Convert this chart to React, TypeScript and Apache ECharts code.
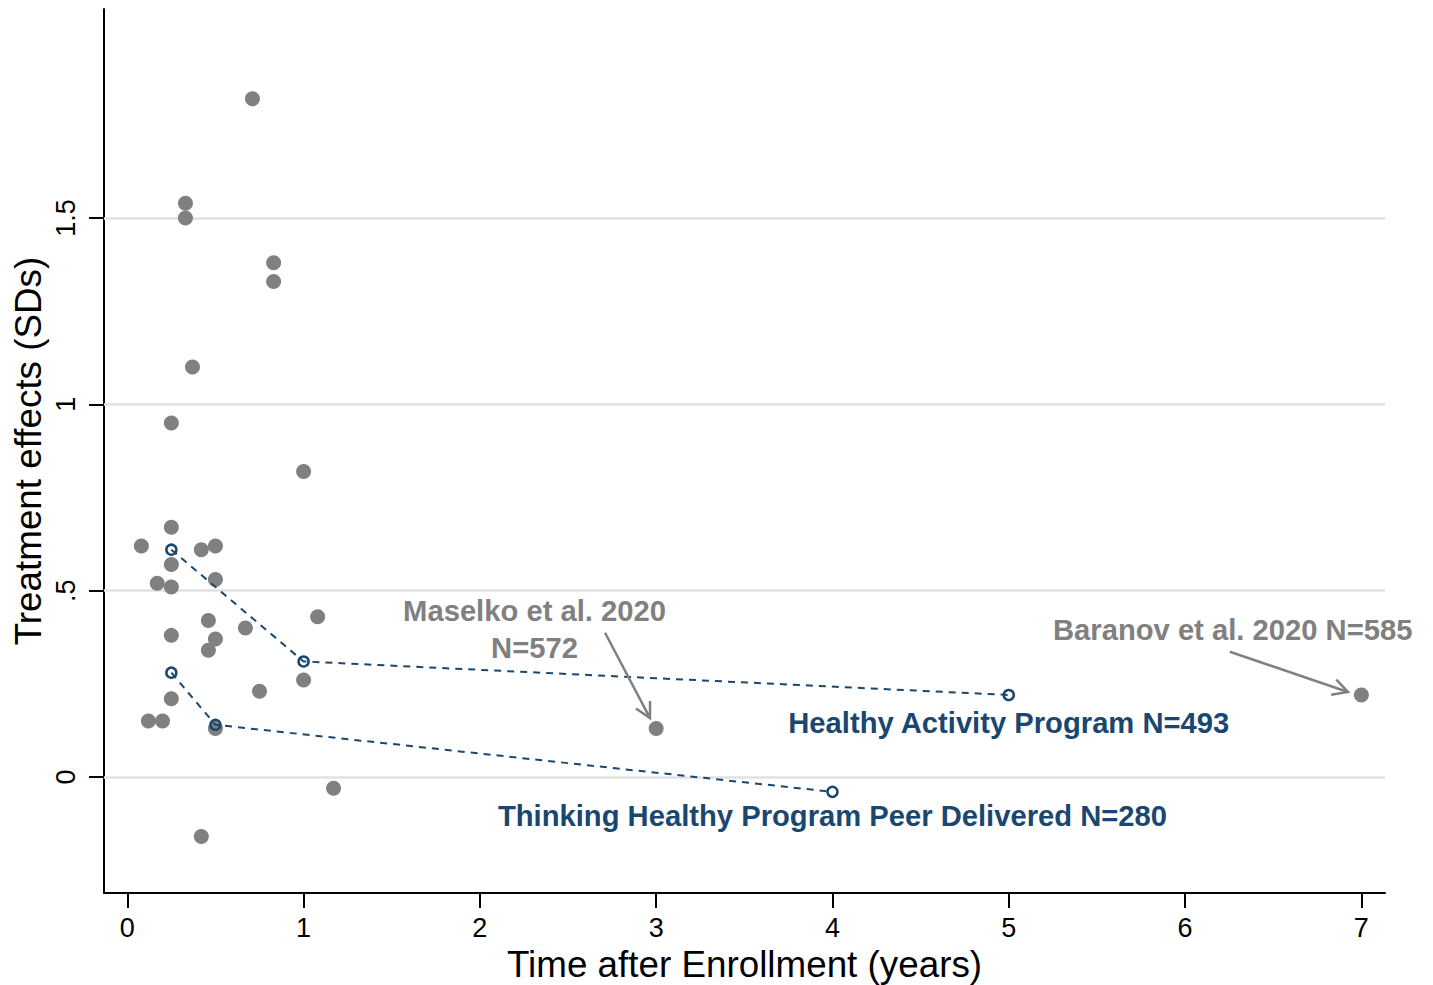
import React, { useEffect, useRef } from 'react';
import * as echarts from 'echarts';

// Individual study estimates: [years after enrollment, treatment effect (SD)]
const studyPoints: [number, number][] = [
  [0.08, 0.62], [0.12, 0.15], [0.17, 0.52], [0.2, 0.15],
  [0.25, 0.95], [0.25, 0.67], [0.25, 0.57], [0.25, 0.51], [0.25, 0.38], [0.25, 0.21],
  [0.33, 1.54], [0.33, 1.5], [0.37, 1.1],
  [0.42, 0.61], [0.42, -0.16], [0.46, 0.42], [0.46, 0.34],
  [0.5, 0.62], [0.5, 0.53], [0.5, 0.37], [0.5, 0.13],
  [0.67, 0.4], [0.71, 1.82], [0.75, 0.23], [0.83, 1.38], [0.83, 1.33],
  [1, 0.82], [1, 0.26], [1.08, 0.43], [1.17, -0.03],
  [3, 0.13], [7, 0.22],
];

// Healthy Activity Program follow-ups
const hapPath: [number, number][] = [[0.25, 0.61], [1, 0.31], [5, 0.22]];
// Thinking Healthy Program Peer Delivered follow-ups
const thppPath: [number, number][] = [[0.25, 0.28], [0.5, 0.14], [4, -0.04]];

const xTicks = [0, 1, 2, 3, 4, 5, 6, 7];
const yTicks = [0, 0.5, 1, 1.5];
const yTickLabels: Record<string, string> = { '0': '0', '0.5': '.5', '1': '1', '1.5': '1.5' };

const annotationTexts = [
  'Maselko et al. 2020\nN=572',
  'Baranov et al. 2020 N=585',
  'Healthy Activity Program N=493',
  'Thinking Healthy Program Peer Delivered N=280',
];
const annotationAnchors: [number, number][] = [[2.31, 0.397], [6.27, 0.395], [5, 0.145], [4, -0.105]];
const annotationIsBlue = [false, false, true, true];

// arrows: [fromX, fromY, toX, toY]
const arrows: [number, number, number, number][] = [
  [2.71, 0.387, 2.965, 0.158],
  [6.254, 0.336, 6.924, 0.228],
];

const GREY = '#808080';
const BLUE = '#1a476f';
const FONT = '"Liberation Sans", Arial, Helvetica, sans-serif';

export default function App() {
  const ref = useRef<HTMLDivElement>(null);

  useEffect(() => {
    if (!ref.current) return;
    const chart = echarts.init(ref.current, undefined, { renderer: 'svg' });

    const option: any = {
      animation: false,
      backgroundColor: '#ffffff',
      grid: { left: 104, top: 9, right: 48, bottom: 92, containLabel: false, outerBoundsMode: 'none' },
      xAxis: {
        type: 'value',
        min: -0.132,
        max: 7.134,
        name: 'Time after Enrollment (years)',
        nameLocation: 'middle',
        nameGap: 53,
        nameMoveOverlap: false,
        nameTextStyle: { fontFamily: FONT, fontSize: 36.8, color: '#000' },
        axisLine: { show: true, onZero: false, lineStyle: { color: '#000', width: 2 } },
        axisTick: { show: true, length: 15, customValues: xTicks, lineStyle: { color: '#000', width: 2 } },
        axisLabel: {
          customValues: xTicks,
          margin: 21,
          fontFamily: FONT,
          fontSize: 27,
          color: '#000',
          formatter: (v: number) => String(v),
        },
        splitLine: { show: false },
      },
      yAxis: {
        type: 'value',
        min: -0.3114,
        max: 2.061,
        name: 'Treatment effects (SDs)',
        nameLocation: 'middle',
        nameRotate: 90,
        nameGap: 57,
        nameMoveOverlap: false,
        nameTextStyle: { fontFamily: FONT, fontSize: 36.8, color: '#000' },
        axisLine: { show: true, onZero: false, lineStyle: { color: '#000', width: 2 } },
        axisTick: { show: true, length: 15, customValues: yTicks, lineStyle: { color: '#000', width: 2 } },
        axisLabel: {
          customValues: yTicks,
          rotate: 90,
          margin: 25,
          fontFamily: FONT,
          fontSize: 27,
          color: '#000',
          formatter: (v: number) => yTickLabels[String(v)] ?? String(v),
        },
        splitLine: { show: false },
      },
      series: [
        {
          type: 'scatter',
          name: 'gridlines',
          data: [],
          z: 1,
          markLine: {
            silent: true,
            z: 1,
            symbol: ['none', 'none'],
            label: { show: false },
            lineStyle: { color: '#e2e2e2', width: 2.5, type: 'solid' },
            data: yTicks.map((v) => ({ yAxis: v })),
          },
        },
        {
          type: 'scatter',
          name: 'studies',
          z: 3,
          symbol: 'circle',
          symbolSize: 15,
          itemStyle: { color: GREY, opacity: 1 },
          data: studyPoints,
        },
        ...[hapPath, thppPath].map((path) => ({
          type: 'line',
          z: 4,
          data: path,
          symbol: 'circle',
          symbolSize: 10,
          showSymbol: true,
          lineStyle: { color: BLUE, width: 2, type: [7, 6] },
          itemStyle: { color: 'rgba(0,0,0,0)', borderColor: BLUE, borderWidth: 2.5 },
        })),
        {
          type: 'custom',
          name: 'arrows',
          z: 5,
          data: arrows,
          renderItem: (params: any, api: any) => {
            const p1 = api.coord([api.value(0), api.value(1)]);
            const p2 = api.coord([api.value(2), api.value(3)]);
            const ang = Math.atan2(p2[1] - p1[1], p2[0] - p1[0]);
            const L = 17;
            const spread = (28 * Math.PI) / 180;
            const a1 = [p2[0] - L * Math.cos(ang - spread), p2[1] - L * Math.sin(ang - spread)];
            const a2 = [p2[0] - L * Math.cos(ang + spread), p2[1] - L * Math.sin(ang + spread)];
            const style = { stroke: GREY, lineWidth: 2.5, fill: 'none' };
            return {
              type: 'group',
              children: [
                { type: 'line', shape: { x1: p1[0], y1: p1[1], x2: p2[0], y2: p2[1] }, style },
                { type: 'polyline', shape: { points: [a1, p2, a2] }, style },
              ],
            };
          },
        },
        {
          type: 'custom',
          name: 'annotations',
          z: 6,
          data: annotationAnchors,
          renderItem: (params: any, api: any) => {
            const p = api.coord([api.value(0), api.value(1)]);
            const i = params.dataIndex;
            return {
              type: 'text',
              x: p[0],
              y: p[1],
              style: {
                text: annotationTexts[i],
                fill: annotationIsBlue[i] ? BLUE : GREY,
                font: `bold 29.2px ${FONT}`,
                align: 'center',
                verticalAlign: 'middle',
                lineHeight: 37,
              },
            };
          },
        },
      ],
    };

    chart.setOption(option);
    return () => chart.dispose();
  }, []);

  return (
    <div
      ref={ref}
      style={{ position: 'fixed', left: 0, top: 0, width: 1433, height: 985, background: '#fff' }}
    />
  );
}
